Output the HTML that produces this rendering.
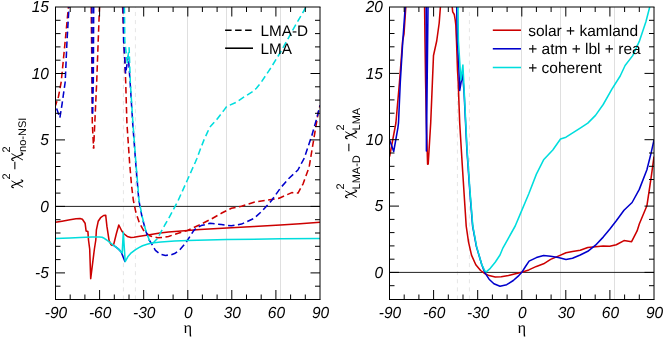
<!DOCTYPE html>
<html><head><meta charset="utf-8"><title>chart</title>
<style>html,body{margin:0;padding:0;background:#fff}svg{display:block;will-change:transform}text{font-family:"Liberation Sans",sans-serif;fill:#000;text-rendering:geometricPrecision}.it{font-style:italic}.sy{font-family:"Liberation Serif",serif}</style></head><body>
<svg width="664" height="338" viewBox="0 0 664 338">
<rect x="0" y="0" width="664" height="338" fill="#fff"/>
<defs><clipPath id="cl"><rect x="55.5" y="7.0" width="264.5" height="292.5"/></clipPath><clipPath id="cr"><rect x="389.5" y="7.0" width="264.5" height="292.5"/></clipPath></defs>
<line x1="187.5" y1="7.0" x2="187.5" y2="299.5" stroke="#dfdfdf" stroke-width="1"/><line x1="226.5" y1="7.0" x2="226.5" y2="299.5" stroke="#dfdfdf" stroke-width="1"/><line x1="280.5" y1="7.0" x2="280.5" y2="299.5" stroke="#dfdfdf" stroke-width="1"/><line x1="123.4" y1="299.5" x2="123.4" y2="7.0" stroke="#e6e6e6" stroke-width="1" stroke-dasharray="4.05 4.05"/><line x1="135.4" y1="299.5" x2="135.4" y2="7.0" stroke="#e6e6e6" stroke-width="1" stroke-dasharray="4.05 4.05"/>
<line x1="55.5" y1="206.4" x2="320.0" y2="206.4" stroke="#222" stroke-width="1"/>
<g clip-path="url(#cl)">
<polyline points="55.5,105.5 58.5,96.5 61.2,82.0 65.2,41.0 68.4,7.0" fill="none" stroke="#cc0000" stroke-width="1.55" stroke-linejoin="round" stroke-dasharray="6.5 3.5" stroke-dashoffset="2.0"/>
<polyline points="91.2,7.0 91.8,60.0 92.3,123.0 93.6,148.5" fill="none" stroke="#cc0000" stroke-width="1.55" stroke-linejoin="round" stroke-dasharray="6.5 3.5"/>
<polyline points="93.6,148.5 94.8,123.0 96.7,82.0 98.2,41.0 99.5,7.0" fill="none" stroke="#cc0000" stroke-width="1.55" stroke-linejoin="round" stroke-dasharray="6.5 3.5" stroke-dashoffset="3.1"/>
<polyline points="122.6,7.0 124.0,41.0 125.7,82.0 126.9,123.0 129.7,164.0 131.5,185.0 133.3,200.0 135.8,212.1 139.4,223.0 144.2,231.5 150.3,236.1 157.6,237.8 163.0,237.4 168.5,236.4 180.6,232.6 187.4,230.4 198.7,225.3 211.3,219.0 221.3,213.3 231.4,208.2 241.5,206.3 254.0,202.2 266.6,200.2 279.2,198.2 291.8,192.6 298.0,193.1 303.1,183.8 308.1,170.0 309.4,165.5 314.4,135.3 318.2,112.7 320.0,105.5" fill="none" stroke="#cc0000" stroke-width="1.55" stroke-linejoin="round" stroke-dasharray="6.5 3.5"/>
<polyline points="55.5,222.3 62.0,221.2 70.0,219.8 76.0,218.8 80.0,218.5 82.4,219.3 85.1,223.2 86.1,231.0 87.9,231.6 88.5,240.0 89.7,249.0 90.7,278.6 94.4,249.0 95.8,240.0 96.4,229.8 98.2,221.3 100.6,217.7 103.6,215.5 105.7,215.2 106.9,226.2 109.1,240.7 111.0,244.6 112.1,245.4 113.7,244.4 116.4,233.5 118.8,225.0 121.8,231.0 124.2,234.0 127.3,236.4 130.9,237.4 134.0,237.2 138.2,236.5 147.9,234.9 160.0,233.0 168.5,232.0 187.7,230.6 200.0,229.6 226.9,228.0 254.0,226.6 280.4,225.0 300.0,223.7 320.0,222.3" fill="none" stroke="#cc0000" stroke-width="1.55" stroke-linejoin="round"/>
<polyline points="55.5,105.3 57.5,111.0 59.9,117.8 62.1,103.8 65.2,82.0 67.0,41.0 69.0,7.0" fill="none" stroke="#0000cc" stroke-width="1.55" stroke-linejoin="round" stroke-dasharray="6.5 3.5" stroke-dashoffset="6.6"/>
<polyline points="92.0,7.0 92.5,114.5" fill="none" stroke="#0000cc" stroke-width="1.55" stroke-linejoin="round" stroke-dasharray="6.5 3.5"/>
<polyline points="93.7,7.0 93.3,82.0 92.5,114.5" fill="none" stroke="#0000cc" stroke-width="1.55" stroke-linejoin="round" stroke-dasharray="6.5 3.5"/>
<polyline points="123.2,7.0 123.6,41.0 125.6,73.7 128.3,56.0 130.1,82.0 132.7,123.0 135.8,164.0 138.8,200.0 141.8,215.8 145.5,230.3 149.1,240.0 151.7,243.9 155.4,250.3 160.0,254.0 165.5,255.4 171.0,254.8 174.6,253.6 179.4,250.2 185.5,243.2 190.3,235.9 193.7,230.6 197.0,227.6 201.2,225.6 210.0,223.3 221.3,224.6 231.4,225.8 241.5,224.1 254.0,218.4 262.1,211.0 271.8,200.3 280.3,188.2 288.8,178.5 297.9,170.0 304.3,158.0 311.9,135.3 316.9,117.7 320.0,105.5" fill="none" stroke="#0000cc" stroke-width="1.55" stroke-linejoin="round" stroke-dasharray="6.5 3.5"/>
<polyline points="113.9,245.6 116.4,247.4 118.8,249.4 121.2,252.0 125.1,262.0" fill="none" stroke="#0000cc" stroke-width="1.55" stroke-linejoin="round"/>
<polyline points="124.4,7.0 124.8,41.0 127.3,62.8 129.1,47.7 130.3,82.0 132.9,123.0 136.0,164.0 139.0,200.0 142.0,215.8 145.7,230.3 149.3,240.0 151.0,242.4 152.6,243.2 154.0,242.0 157.2,238.8 164.8,225.0 168.5,218.8 177.9,201.0 186.5,182.0 191.6,170.5 195.5,161.8 197.0,158.2 200.6,148.5 204.2,139.4 207.3,132.7 209.7,127.3 214.0,122.5 217.6,118.5 221.2,113.8 224.4,109.6 226.8,106.4 235.8,102.5 244.2,96.9 252.7,91.6 256.4,88.2 261.2,82.3 265.5,75.8 268.5,71.4 271.3,67.2 280.3,52.5 288.8,37.4 292.4,30.6 304.3,10.0 306.0,7.0" fill="none" stroke="#00dddd" stroke-width="1.55" stroke-linejoin="round" stroke-dasharray="6.5 3.5"/>
<polyline points="55.5,238.4 70.0,237.9 80.0,237.5 92.1,236.9 99.4,236.9 102.0,237.3 104.2,238.3 106.7,240.0 109.1,241.9 113.9,245.6 116.4,247.4 118.8,249.4 121.2,252.0 122.2,253.0 123.3,232.3 125.2,261.6 127.8,256.8 130.6,253.4 135.2,249.8 138.9,247.6 142.5,245.8 147.1,244.2 151.7,243.0 160.9,242.0 174.6,241.1 187.7,240.5 226.9,239.6 280.4,238.8 320.0,238.4" fill="none" stroke="#00dddd" stroke-width="1.55" stroke-linejoin="round"/>
</g>
<path d="M70.2 7.0v5.0M70.2 299.5v-5.0M84.9 7.0v5.0M84.9 299.5v-5.0M99.6 7.0v9.5M99.6 299.5v-9.5M114.3 7.0v5.0M114.3 299.5v-5.0M129.0 7.0v5.0M129.0 299.5v-5.0M143.7 7.0v9.5M143.7 299.5v-9.5M158.4 7.0v5.0M158.4 299.5v-5.0M173.1 7.0v5.0M173.1 299.5v-5.0M187.8 7.0v9.5M187.8 299.5v-9.5M202.4 7.0v5.0M202.4 299.5v-5.0M217.1 7.0v5.0M217.1 299.5v-5.0M231.8 7.0v9.5M231.8 299.5v-9.5M246.5 7.0v5.0M246.5 299.5v-5.0M261.2 7.0v5.0M261.2 299.5v-5.0M275.9 7.0v9.5M275.9 299.5v-9.5M290.6 7.0v5.0M290.6 299.5v-5.0M305.3 7.0v5.0M305.3 299.5v-5.0M55.5 286.2h5.0M320.0 286.2h-5.0M55.5 272.9h9.5M320.0 272.9h-9.5M55.5 259.6h5.0M320.0 259.6h-5.0M55.5 246.3h5.0M320.0 246.3h-5.0M55.5 233.0h5.0M320.0 233.0h-5.0M55.5 219.7h5.0M320.0 219.7h-5.0M55.5 206.4h9.5M320.0 206.4h-9.5M55.5 193.1h5.0M320.0 193.1h-5.0M55.5 179.8h5.0M320.0 179.8h-5.0M55.5 166.5h5.0M320.0 166.5h-5.0M55.5 153.2h5.0M320.0 153.2h-5.0M55.5 139.9h9.5M320.0 139.9h-9.5M55.5 126.6h5.0M320.0 126.6h-5.0M55.5 113.3h5.0M320.0 113.3h-5.0M55.5 100.1h5.0M320.0 100.1h-5.0M55.5 86.8h5.0M320.0 86.8h-5.0M55.5 73.5h9.5M320.0 73.5h-9.5M55.5 60.2h5.0M320.0 60.2h-5.0M55.5 46.9h5.0M320.0 46.9h-5.0M55.5 33.6h5.0M320.0 33.6h-5.0M55.5 20.3h5.0M320.0 20.3h-5.0" stroke="#000" stroke-width="1" fill="none"/>
<path d="M55.0 7.0H320.5M55.0 299.5H320.5M55.5 7.0V299.5M320.0 7.0V299.5" stroke="#000" stroke-width="1" fill="none"/>
<line x1="521.5" y1="7.0" x2="521.5" y2="299.5" stroke="#dfdfdf" stroke-width="1"/><line x1="560.5" y1="7.0" x2="560.5" y2="299.5" stroke="#dfdfdf" stroke-width="1"/><line x1="614.5" y1="7.0" x2="614.5" y2="299.5" stroke="#dfdfdf" stroke-width="1"/><line x1="457.4" y1="299.5" x2="457.4" y2="7.0" stroke="#e6e6e6" stroke-width="1" stroke-dasharray="4.05 4.05"/><line x1="469.4" y1="299.5" x2="469.4" y2="7.0" stroke="#e6e6e6" stroke-width="1" stroke-dasharray="4.05 4.05"/>
<line x1="389.5" y1="272.4" x2="654.0" y2="272.4" stroke="#222" stroke-width="1"/>
<g clip-path="url(#cr)">
<polyline points="389.6,156.5 395.9,123.0 399.5,82.0 402.6,41.0 404.0,34.0 405.8,7.0" fill="none" stroke="#cc0000" stroke-width="1.55" stroke-linejoin="round"/>
<polyline points="424.6,7.0 425.0,41.0 425.6,82.0 426.4,123.0 427.6,164.3 428.2,164.0 430.7,123.0 432.4,82.0 433.5,55.5 436.7,41.0 439.2,23.0 440.4,7.0" fill="none" stroke="#cc0000" stroke-width="1.55" stroke-linejoin="round"/>
<polyline points="452.2,7.0 452.7,11.8 454.3,14.5 455.2,19.9 455.8,24.8 456.1,32.9 456.5,41.0 457.0,55.0 457.5,70.0 458.2,82.0 459.7,123.0 462.2,164.0 464.9,206.0 466.2,226.0 468.5,241.8 471.5,255.1 475.8,264.7 480.6,270.5 484.2,273.2 489.1,275.6 495.2,277.1 501.2,276.8 508.5,275.6 514.5,273.9 521.8,272.3 528.8,269.9 536.4,266.4 543.6,263.8 550.6,259.4 558.3,256.1 566.0,252.8 572.5,251.5 580.2,250.2 587.8,247.4 595.5,246.7 603.2,246.0 609.7,246.3 616.3,244.7 624.0,240.6 631.6,241.7 637.1,230.9 639.3,224.0 646.9,205.8 651.3,176.3 654.0,156.5" fill="none" stroke="#cc0000" stroke-width="1.55" stroke-linejoin="round"/>
<polyline points="389.6,140.0 393.7,151.5 397.9,127.8 398.5,123.0 400.3,82.0 402.8,41.0 405.2,7.0" fill="none" stroke="#0000cc" stroke-width="1.55" stroke-linejoin="round"/>
<polyline points="426.2,7.0 426.4,150.9 428.0,7.0" fill="none" stroke="#0000cc" stroke-width="1.55" stroke-linejoin="round"/>
<polyline points="456.8,7.0 456.9,20.0 457.4,41.0 458.6,62.0 459.7,90.5 462.5,73.8 464.0,91.0 466.9,150.0 469.8,191.0 472.6,226.0 476.4,246.6 481.8,264.7 484.8,272.6 489.1,279.2 493.9,283.8 500.0,286.3 506.7,284.7 513.3,280.5 518.2,276.2 521.8,272.3 525.5,266.5 529.1,261.1 536.4,257.6 543.6,255.5 550.6,256.3 558.3,257.6 566.0,259.4 572.5,258.3 580.2,255.0 587.8,251.3 595.5,245.2 603.2,237.1 609.7,229.2 616.3,220.7 624.0,210.2 632.1,202.5 639.3,189.4 646.9,169.7 651.3,152.2 654.0,140.0" fill="none" stroke="#0000cc" stroke-width="1.55" stroke-linejoin="round"/>
<polyline points="458.0,7.0 458.4,41.0 460.9,80.0 462.9,65.0 464.2,91.0 467.1,150.0 470.0,191.0 472.8,226.0 476.6,246.6 481.8,264.7 484.8,270.8 486.3,271.8 490.3,268.3 495.2,262.3 500.0,255.0 503.0,247.8 515.2,226.0 520.0,214.6 528.8,193.8 536.4,174.1 543.6,159.8 552.8,150.0 560.5,139.0 566.0,137.2 580.2,128.1 587.8,123.1 595.5,115.4 603.2,104.5 611.9,89.1 620.2,76.0 625.1,65.5 632.7,55.6 639.3,41.4 645.9,21.7 649.6,7.5 649.8,7.0" fill="none" stroke="#00dddd" stroke-width="1.55" stroke-linejoin="round"/>
</g>
<path d="M404.2 7.0v5.0M404.2 299.5v-5.0M418.9 7.0v5.0M418.9 299.5v-5.0M433.6 7.0v9.5M433.6 299.5v-9.5M448.3 7.0v5.0M448.3 299.5v-5.0M463.0 7.0v5.0M463.0 299.5v-5.0M477.7 7.0v9.5M477.7 299.5v-9.5M492.4 7.0v5.0M492.4 299.5v-5.0M507.1 7.0v5.0M507.1 299.5v-5.0M521.8 7.0v9.5M521.8 299.5v-9.5M536.4 7.0v5.0M536.4 299.5v-5.0M551.1 7.0v5.0M551.1 299.5v-5.0M565.8 7.0v9.5M565.8 299.5v-9.5M580.5 7.0v5.0M580.5 299.5v-5.0M595.2 7.0v5.0M595.2 299.5v-5.0M609.9 7.0v9.5M609.9 299.5v-9.5M624.6 7.0v5.0M624.6 299.5v-5.0M639.3 7.0v5.0M639.3 299.5v-5.0M389.5 285.7h5.0M654.0 285.7h-5.0M389.5 272.4h9.5M654.0 272.4h-9.5M389.5 259.2h5.0M654.0 259.2h-5.0M389.5 245.9h5.0M654.0 245.9h-5.0M389.5 232.6h5.0M654.0 232.6h-5.0M389.5 219.4h5.0M654.0 219.4h-5.0M389.5 206.1h9.5M654.0 206.1h-9.5M389.5 192.8h5.0M654.0 192.8h-5.0M389.5 179.5h5.0M654.0 179.5h-5.0M389.5 166.3h5.0M654.0 166.3h-5.0M389.5 153.0h5.0M654.0 153.0h-5.0M389.5 139.7h9.5M654.0 139.7h-9.5M389.5 126.5h5.0M654.0 126.5h-5.0M389.5 113.2h5.0M654.0 113.2h-5.0M389.5 99.9h5.0M654.0 99.9h-5.0M389.5 86.6h5.0M654.0 86.6h-5.0M389.5 73.4h9.5M654.0 73.4h-9.5M389.5 60.1h5.0M654.0 60.1h-5.0M389.5 46.8h5.0M654.0 46.8h-5.0M389.5 33.5h5.0M654.0 33.5h-5.0M389.5 20.3h5.0M654.0 20.3h-5.0" stroke="#000" stroke-width="1" fill="none"/>
<path d="M389.0 7.0H654.5M389.0 299.5H654.5M389.5 7.0V299.5M654.0 7.0V299.5" stroke="#000" stroke-width="1" fill="none"/>
<text class="it" transform="translate(56.0 317.7) scale(1 1.04)" font-size="15.5" text-anchor="middle">-90</text><text class="it" transform="translate(100.1 317.7) scale(1 1.04)" font-size="15.5" text-anchor="middle">-60</text><text class="it" transform="translate(144.2 317.7) scale(1 1.04)" font-size="15.5" text-anchor="middle">-30</text><text class="it" transform="translate(188.2 317.7) scale(1 1.04)" font-size="15.5" text-anchor="middle">0</text><text class="it" transform="translate(232.3 317.7) scale(1 1.04)" font-size="15.5" text-anchor="middle">30</text><text class="it" transform="translate(276.4 317.7) scale(1 1.04)" font-size="15.5" text-anchor="middle">60</text><text class="it" transform="translate(320.5 317.7) scale(1 1.04)" font-size="15.5" text-anchor="middle">90</text>
<text class="it" transform="translate(390.0 317.7) scale(1 1.04)" font-size="15.5" text-anchor="middle">-90</text><text class="it" transform="translate(434.1 317.7) scale(1 1.04)" font-size="15.5" text-anchor="middle">-60</text><text class="it" transform="translate(478.2 317.7) scale(1 1.04)" font-size="15.5" text-anchor="middle">-30</text><text class="it" transform="translate(522.2 317.7) scale(1 1.04)" font-size="15.5" text-anchor="middle">0</text><text class="it" transform="translate(566.3 317.7) scale(1 1.04)" font-size="15.5" text-anchor="middle">30</text><text class="it" transform="translate(610.4 317.7) scale(1 1.04)" font-size="15.5" text-anchor="middle">60</text><text class="it" transform="translate(654.5 317.7) scale(1 1.04)" font-size="15.5" text-anchor="middle">90</text>
<text class="it" transform="translate(48.9 12.1) scale(1 1.04)" font-size="15.5" text-anchor="end">15</text>
<text class="it" transform="translate(48.9 78.6) scale(1 1.04)" font-size="15.5" text-anchor="end">10</text>
<text class="it" transform="translate(48.9 145.0) scale(1 1.04)" font-size="15.5" text-anchor="end">5</text>
<text class="it" transform="translate(48.9 211.5) scale(1 1.04)" font-size="15.5" text-anchor="end">0</text>
<text class="it" transform="translate(48.9 278.0) scale(1 1.04)" font-size="15.5" text-anchor="end">-5</text>
<text class="it" transform="translate(383.0 12.1) scale(1 1.04)" font-size="15.5" text-anchor="end">20</text>
<text class="it" transform="translate(383.0 78.5) scale(1 1.04)" font-size="15.5" text-anchor="end">15</text>
<text class="it" transform="translate(383.0 144.8) scale(1 1.04)" font-size="15.5" text-anchor="end">10</text>
<text class="it" transform="translate(383.0 211.2) scale(1 1.04)" font-size="15.5" text-anchor="end">5</text>
<text class="it" transform="translate(383.0 277.6) scale(1 1.04)" font-size="15.5" text-anchor="end">0</text>
<text class="sy" x="187.8" y="332.8" font-size="16.5" text-anchor="middle">η</text>
<text class="sy" x="521.8" y="332.8" font-size="16.5" text-anchor="middle">η</text>
<line x1="225.1" y1="30.2" x2="252.4" y2="30.2" stroke="#000" stroke-width="1.55" stroke-dasharray="6.5 3.5"/>
<line x1="225.1" y1="48.2" x2="253" y2="48.2" stroke="#000" stroke-width="1.55"/>
<text x="260.5" y="35.8" font-size="15.3">LMA-D</text>
<text x="260.5" y="53.7" font-size="15.3">LMA</text>
<line x1="492.8" y1="30.2" x2="521" y2="30.2" stroke="#cc0000" stroke-width="1.55"/>
<text x="528.2" y="35.6" font-size="15.5">solar + kamland</text>
<line x1="492.8" y1="48.8" x2="521" y2="48.8" stroke="#0000cc" stroke-width="1.55"/>
<text x="528.2" y="54.2" font-size="15.5">+ atm + lbl + rea</text>
<line x1="492.8" y1="67.5" x2="521" y2="67.5" stroke="#00dddd" stroke-width="1.55"/>
<text x="528.2" y="72.8" font-size="15.5">+ coherent</text>
<g transform="translate(19.7 188.0) rotate(-90)"><g transform="translate(0.0 0)"><path d="M7.0,-7.9L1.0,2.9" stroke="#000" stroke-width="0.9" fill="none" stroke-linecap="round"/><path d="M0.3,-6.4C0.5,-7.6 1.2,-8.1 1.9,-7.9C2.6,-7.7 2.9,-6.5 3.3,-5.0L5.3,0C5.8,1.8 6.3,3.0 7.0,3.1C7.6,3.1 7.9,2.5 8.0,1.6" stroke="#000" stroke-width="1.25" fill="none" stroke-linecap="round"/></g><text x="8.4" y="-9.8" font-size="11.0">2</text><text x="18.1" y="0" font-size="15.5">−</text><g transform="translate(27.2 0)"><path d="M7.0,-7.9L1.0,2.9" stroke="#000" stroke-width="0.9" fill="none" stroke-linecap="round"/><path d="M0.3,-6.4C0.5,-7.6 1.2,-8.1 1.9,-7.9C2.6,-7.7 2.9,-6.5 3.3,-5.0L5.3,0C5.8,1.8 6.3,3.0 7.0,3.1C7.6,3.1 7.9,2.5 8.0,1.6" stroke="#000" stroke-width="1.25" fill="none" stroke-linecap="round"/></g><text x="35.6" y="-9.8" font-size="11.0">2</text><text x="36.1" y="6.4" font-size="11.0">no-NSI</text></g>
<g transform="translate(353.5 198.0) rotate(-90)"><g transform="translate(0.0 0)"><path d="M7.0,-7.9L1.0,2.9" stroke="#000" stroke-width="0.9" fill="none" stroke-linecap="round"/><path d="M0.3,-6.4C0.5,-7.6 1.2,-8.1 1.9,-7.9C2.6,-7.7 2.9,-6.5 3.3,-5.0L5.3,0C5.8,1.8 6.3,3.0 7.0,3.1C7.6,3.1 7.9,2.5 8.0,1.6" stroke="#000" stroke-width="1.25" fill="none" stroke-linecap="round"/></g><text x="8.4" y="-9.8" font-size="11.0">2</text><text x="8.6" y="6.4" font-size="11.0">LMA-D</text><text x="46.1" y="0" font-size="15.5">−</text><g transform="translate(59.1 0)"><path d="M7.0,-7.9L1.0,2.9" stroke="#000" stroke-width="0.9" fill="none" stroke-linecap="round"/><path d="M0.3,-6.4C0.5,-7.6 1.2,-8.1 1.9,-7.9C2.6,-7.7 2.9,-6.5 3.3,-5.0L5.3,0C5.8,1.8 6.3,3.0 7.0,3.1C7.6,3.1 7.9,2.5 8.0,1.6" stroke="#000" stroke-width="1.25" fill="none" stroke-linecap="round"/></g><text x="67.5" y="-9.8" font-size="11.0">2</text><text x="67.6" y="6.4" font-size="11.0">LMA</text></g>
</svg></body></html>
